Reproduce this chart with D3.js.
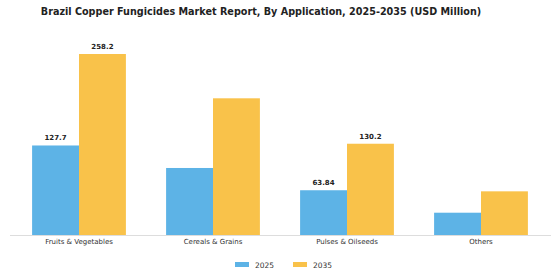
<!DOCTYPE html>
<html><head><meta charset="utf-8">
<script src="https://cdn.jsdelivr.net/npm/d3@7"></script>
<style>body{margin:0;background:#fff;}svg{display:block;font-family:"DejaVu Sans",sans-serif;}</style>
</head><body>
<svg id="c" width="560" height="280"></svg>
<script>
const categories = ["Fruits & Vegetables", "Cereals & Grains", "Pulses & Oilseeds", "Others"];
const years = ["2025", "2035"];
const values2025 = [127.7, 95.6, 63.84, 31.8];
const values2035 = [258.2, 195.0, 130.2, 62.3];
const labels2025 = ["127.7", null, "63.84", null];
const labels2035 = ["258.2", null, "130.2", null];
const colors = ["#5DB3E6", "#F9C24A"];

(function () {
const svg = d3.select("#c");
const base = 235, topY = 54;
const x = d3.scaleBand().domain(categories).range([12, 548]).paddingInner(0.3).paddingOuter(0.15);
const xs = d3.scaleBand().domain(years).range([0, x.bandwidth()]);
const y = d3.scaleLinear().domain([0, 258.2]).range([base, topY]);

svg.append("text").attr("x", 261).attr("y", 15).attr("text-anchor", "middle")
  .attr("font-size", 9.65).attr("font-weight", "bold").attr("fill", "#222")
  .text("Brazil Copper Fungicides Market Report, By Application, 2025-2035 (USD Million)");

const series = [values2025, values2035];
const labs = [labels2025, labels2035];
years.forEach((yr, si) => {
  const g = svg.append("g");
  g.selectAll("rect").data(categories).join("rect")
    .attr("x", d => x(d) + xs(yr))
    .attr("y", (d, i) => y(series[si][i]))
    .attr("width", xs.bandwidth())
    .attr("height", (d, i) => base - y(series[si][i]))
    .attr("fill", colors[si]);
  const idx = categories.map((d, i) => i).filter(i => labs[si][i] !== null);
  g.selectAll("text").data(idx).join("text")
    .attr("x", i => x(categories[i]) + xs(yr) + xs.bandwidth() / 2)
    .attr("y", i => y(series[si][i]) - 5)
    .attr("text-anchor", "middle").attr("font-size", 7).attr("font-weight", "bold").attr("fill", "#222")
    .text(i => labs[si][i]);
});

const axis = svg.append("g").attr("transform", `translate(0,${base})`)
  .call(d3.axisBottom(x).tickSize(0).tickPadding(4));
axis.select(".domain").attr("stroke", "#ddd").attr("d", "M10,0.5H551");
axis.selectAll("text").attr("font-size", 7).attr("fill", "#333").attr("font-family", "DejaVu Sans, sans-serif");

const leg = svg.append("g");
const lx = [235, 293];
years.forEach((yr, i) => {
  leg.append("rect").attr("x", lx[i]).attr("y", 262).attr("width", 14).attr("height", 5).attr("fill", colors[i]);
  leg.append("text").attr("x", lx[i] + 20).attr("y", 268).attr("font-size", 7.5).attr("fill", "#333").text(yr);
});
})();
</script>
</body></html>
